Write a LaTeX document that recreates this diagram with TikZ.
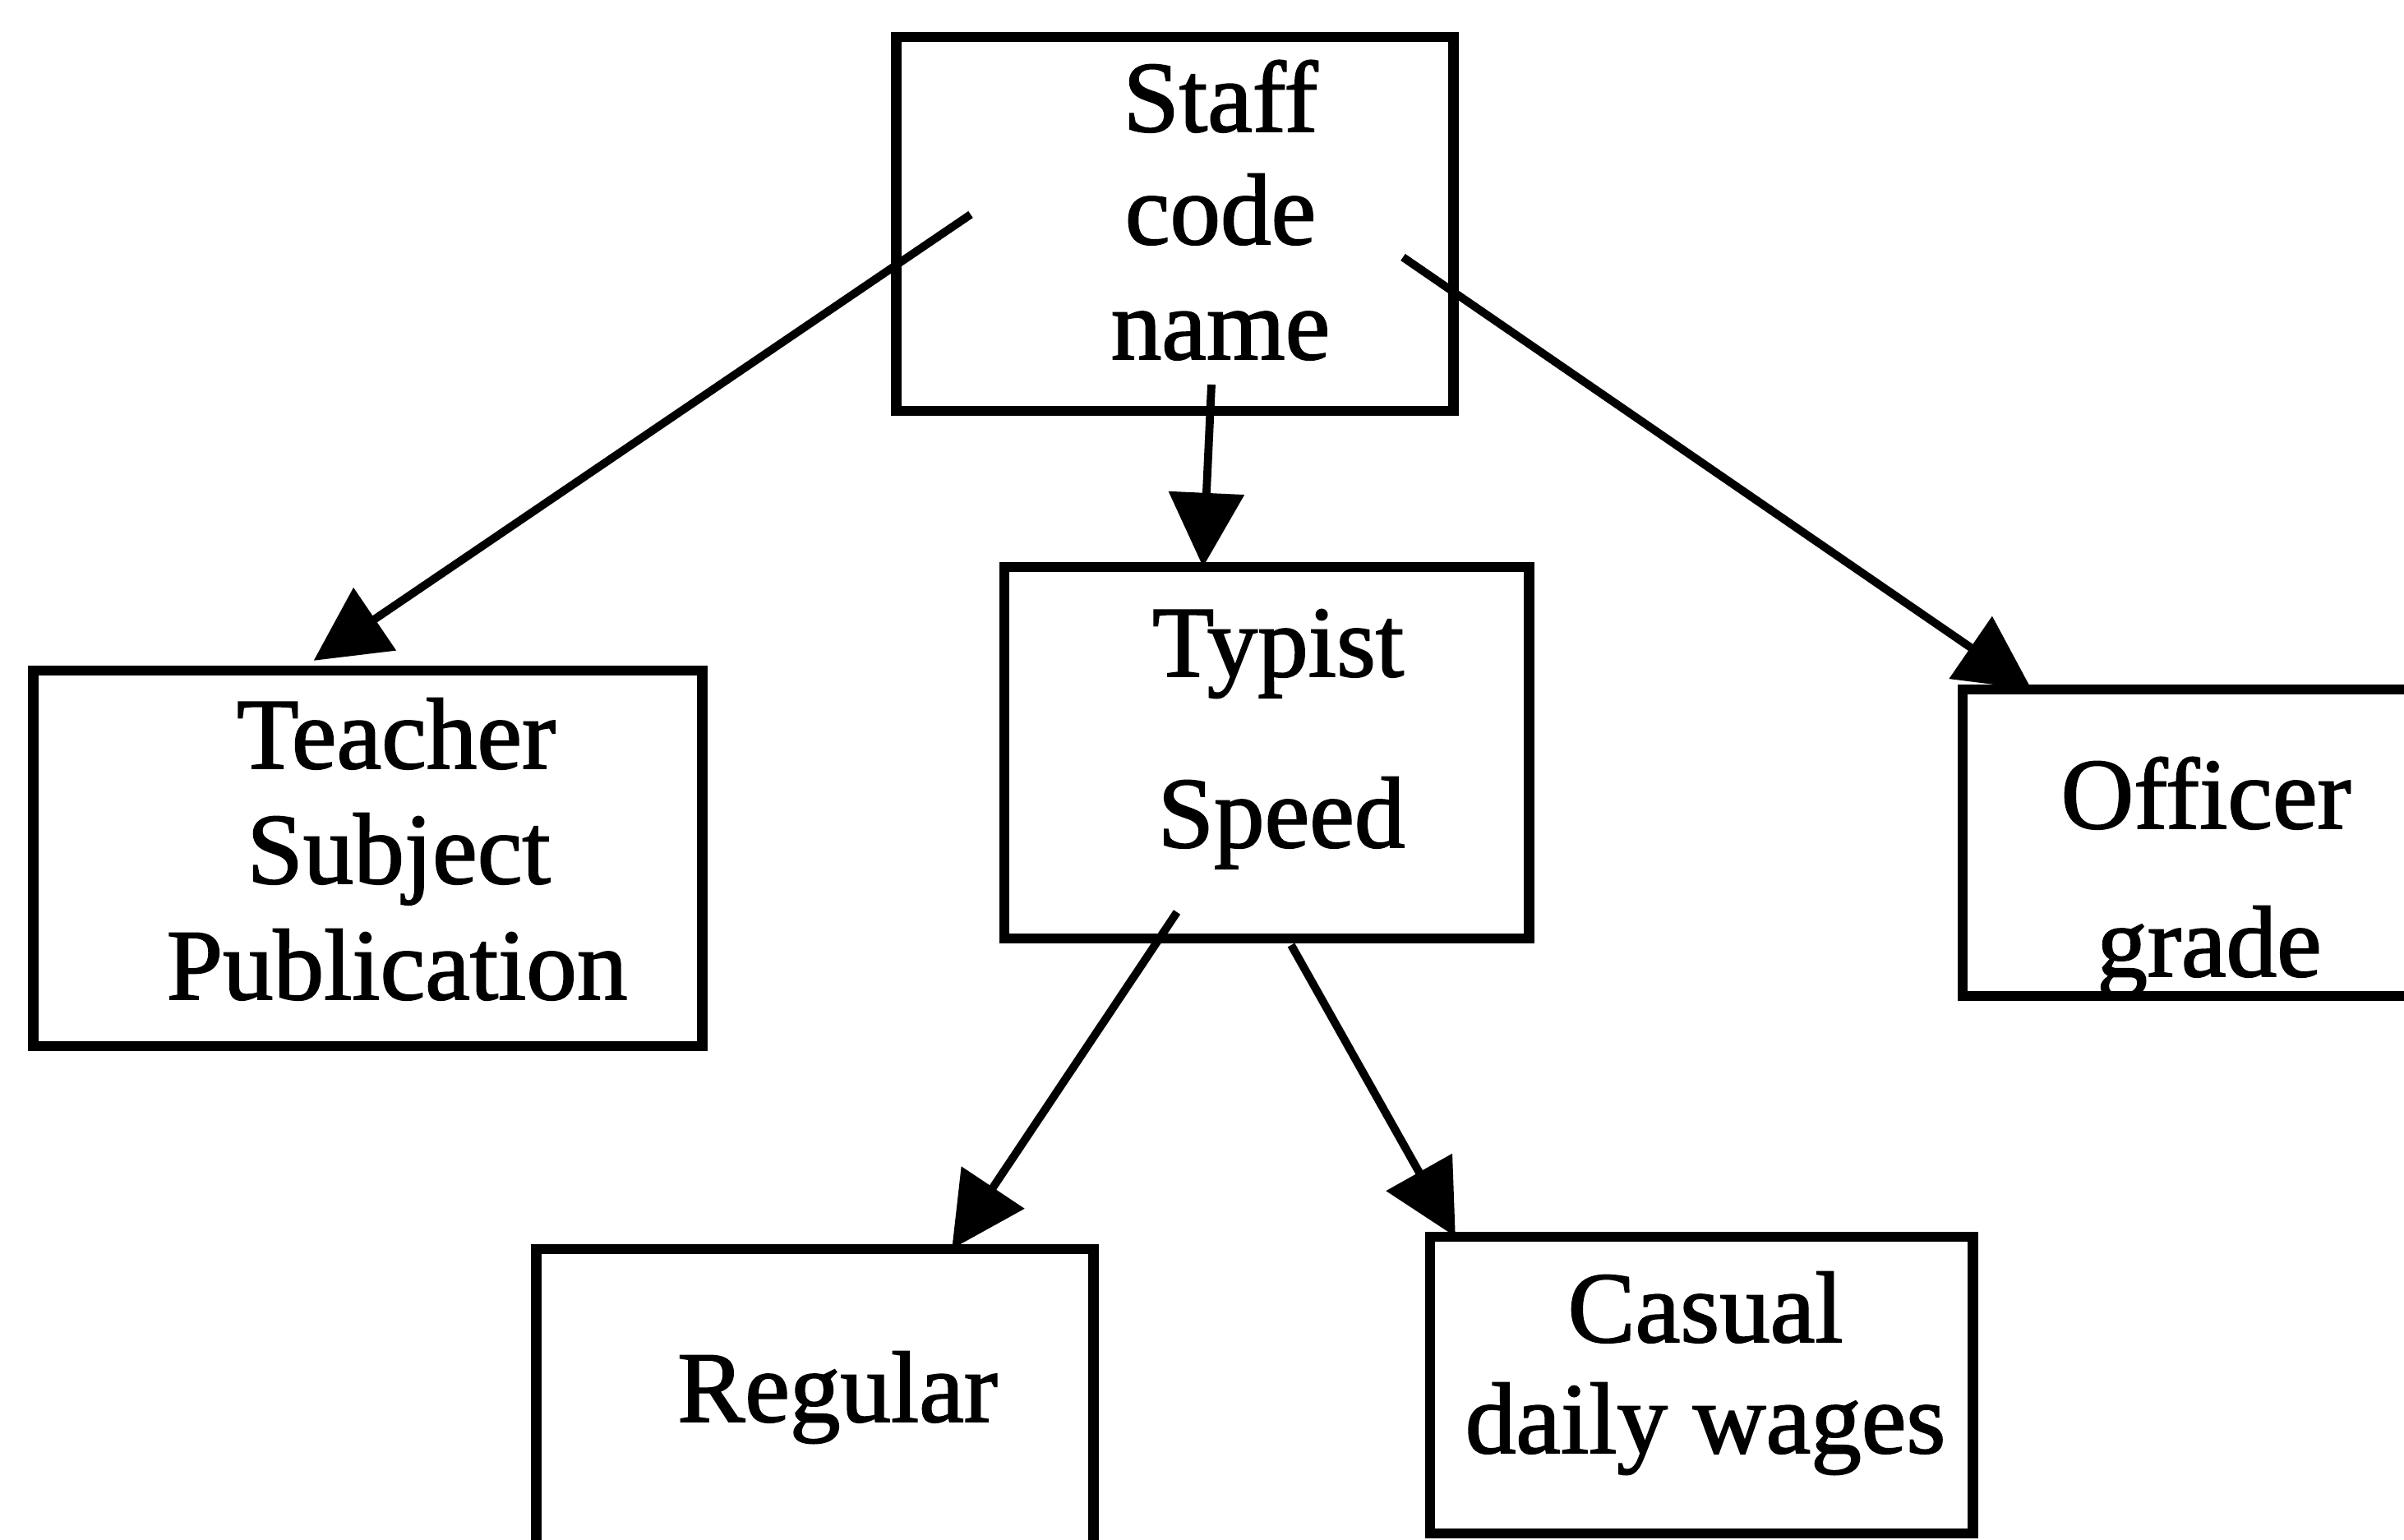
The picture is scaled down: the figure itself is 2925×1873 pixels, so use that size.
\documentclass[tikz,border=0pt]{standalone}
\usepackage{fontspec}
\setmainfont{Liberation Serif}[BoldFont={Liberation Serif},BoldFeatures={FakeBold=1.5}]
\usetikzlibrary{arrows.meta,calc}
\begin{document}
\begin{tikzpicture}[x=0.01cm,y=-0.01cm,
  box/.style={draw,line width=3.6pt,inner sep=0pt,outer sep=0pt,rectangle},
  lbl/.style={anchor=base,inner sep=0pt,font=\fontsize{35}{40}\selectfont\bfseries},
  conn/.style={line width=2.8pt,-{Triangle[length=0.9cm,width=0.9cm]}}]
\useasboundingbox (0,0) rectangle (2925,1873);
\fill[white] (0,0) rectangle (2925,1873);
% boxes
\node[box,minimum width=6.77cm,minimum height=4.55cm] (staff) at (1429.5,272.5) {};
\node[box,minimum width=6.38cm,minimum height=4.52cm] (typist) at (1541,916) {};
\node[box,minimum width=8.13cm,minimum height=4.57cm] (teacher) at (447.5,1044.5) {};
\node[box,minimum width=5.72cm,minimum height=3.73cm] (officer) at (2674,1025.5) {};
\node[box,minimum width=6.77cm,minimum height=3.80cm] (regular) at (991.5,1710) {};
\node[box,minimum width=6.60cm,minimum height=3.61cm] (casual) at (2070,1685.5) {};
% texts
\node[lbl] (staffA) at (1485,160) {Staff};
\node[lbl] (staffB) at (1485,297) {code};
\node[lbl] (staffC) at (1485,437) {name};
\node[lbl] (typA) at (1555,823) {Typist};
\node[lbl] (typB) at (1559,1031) {Speed};
\node[lbl] (teaA) at (482,935) {Teacher};
\node[lbl] (teaB) at (485,1075) {Subject};
\node[lbl] (teaC) at (483,1216) {Publication};
\node[lbl] (offA) at (2684,1008) {Officer};
\node[lbl] (offB) at (2688,1188) {grade};
\node[lbl] (regA) at (1019,1730) {Regular};
\node[lbl] (casA) at (2075,1633) {Casual};
\node[lbl] (casB) at (2075,1768) {daily wages};
% connector ends
\coordinate (s1) at (1181,261);
\coordinate (s2) at (1474,468);
\coordinate (s3) at (1707,313);
\coordinate (y1) at (1432,1110);
\coordinate (y2) at (1571,1150);
\coordinate (tTea) at ($(teacher.north west)!0.419!(teacher.north east)+(0,-12)$);
\coordinate (tTyp) at ($(typist.north west)!0.379!(typist.north east)$);
\coordinate (tOff) at ($(officer.north west)+(84,0)$);
\coordinate (tReg) at ($(regular.north west)!0.746!(regular.north east)$);
\coordinate (tCas) at ($(casual.north west)!0.047!(casual.north east)$);
% connectors
\draw[conn] (s1) -- (tTea);
\draw[conn] (s2) -- (tTyp);
\draw[conn] (s3) -- (tOff);
\draw[conn] (y1) -- (tReg);
\draw[conn] (y2) -- (tCas);
\end{tikzpicture}
\end{document}
